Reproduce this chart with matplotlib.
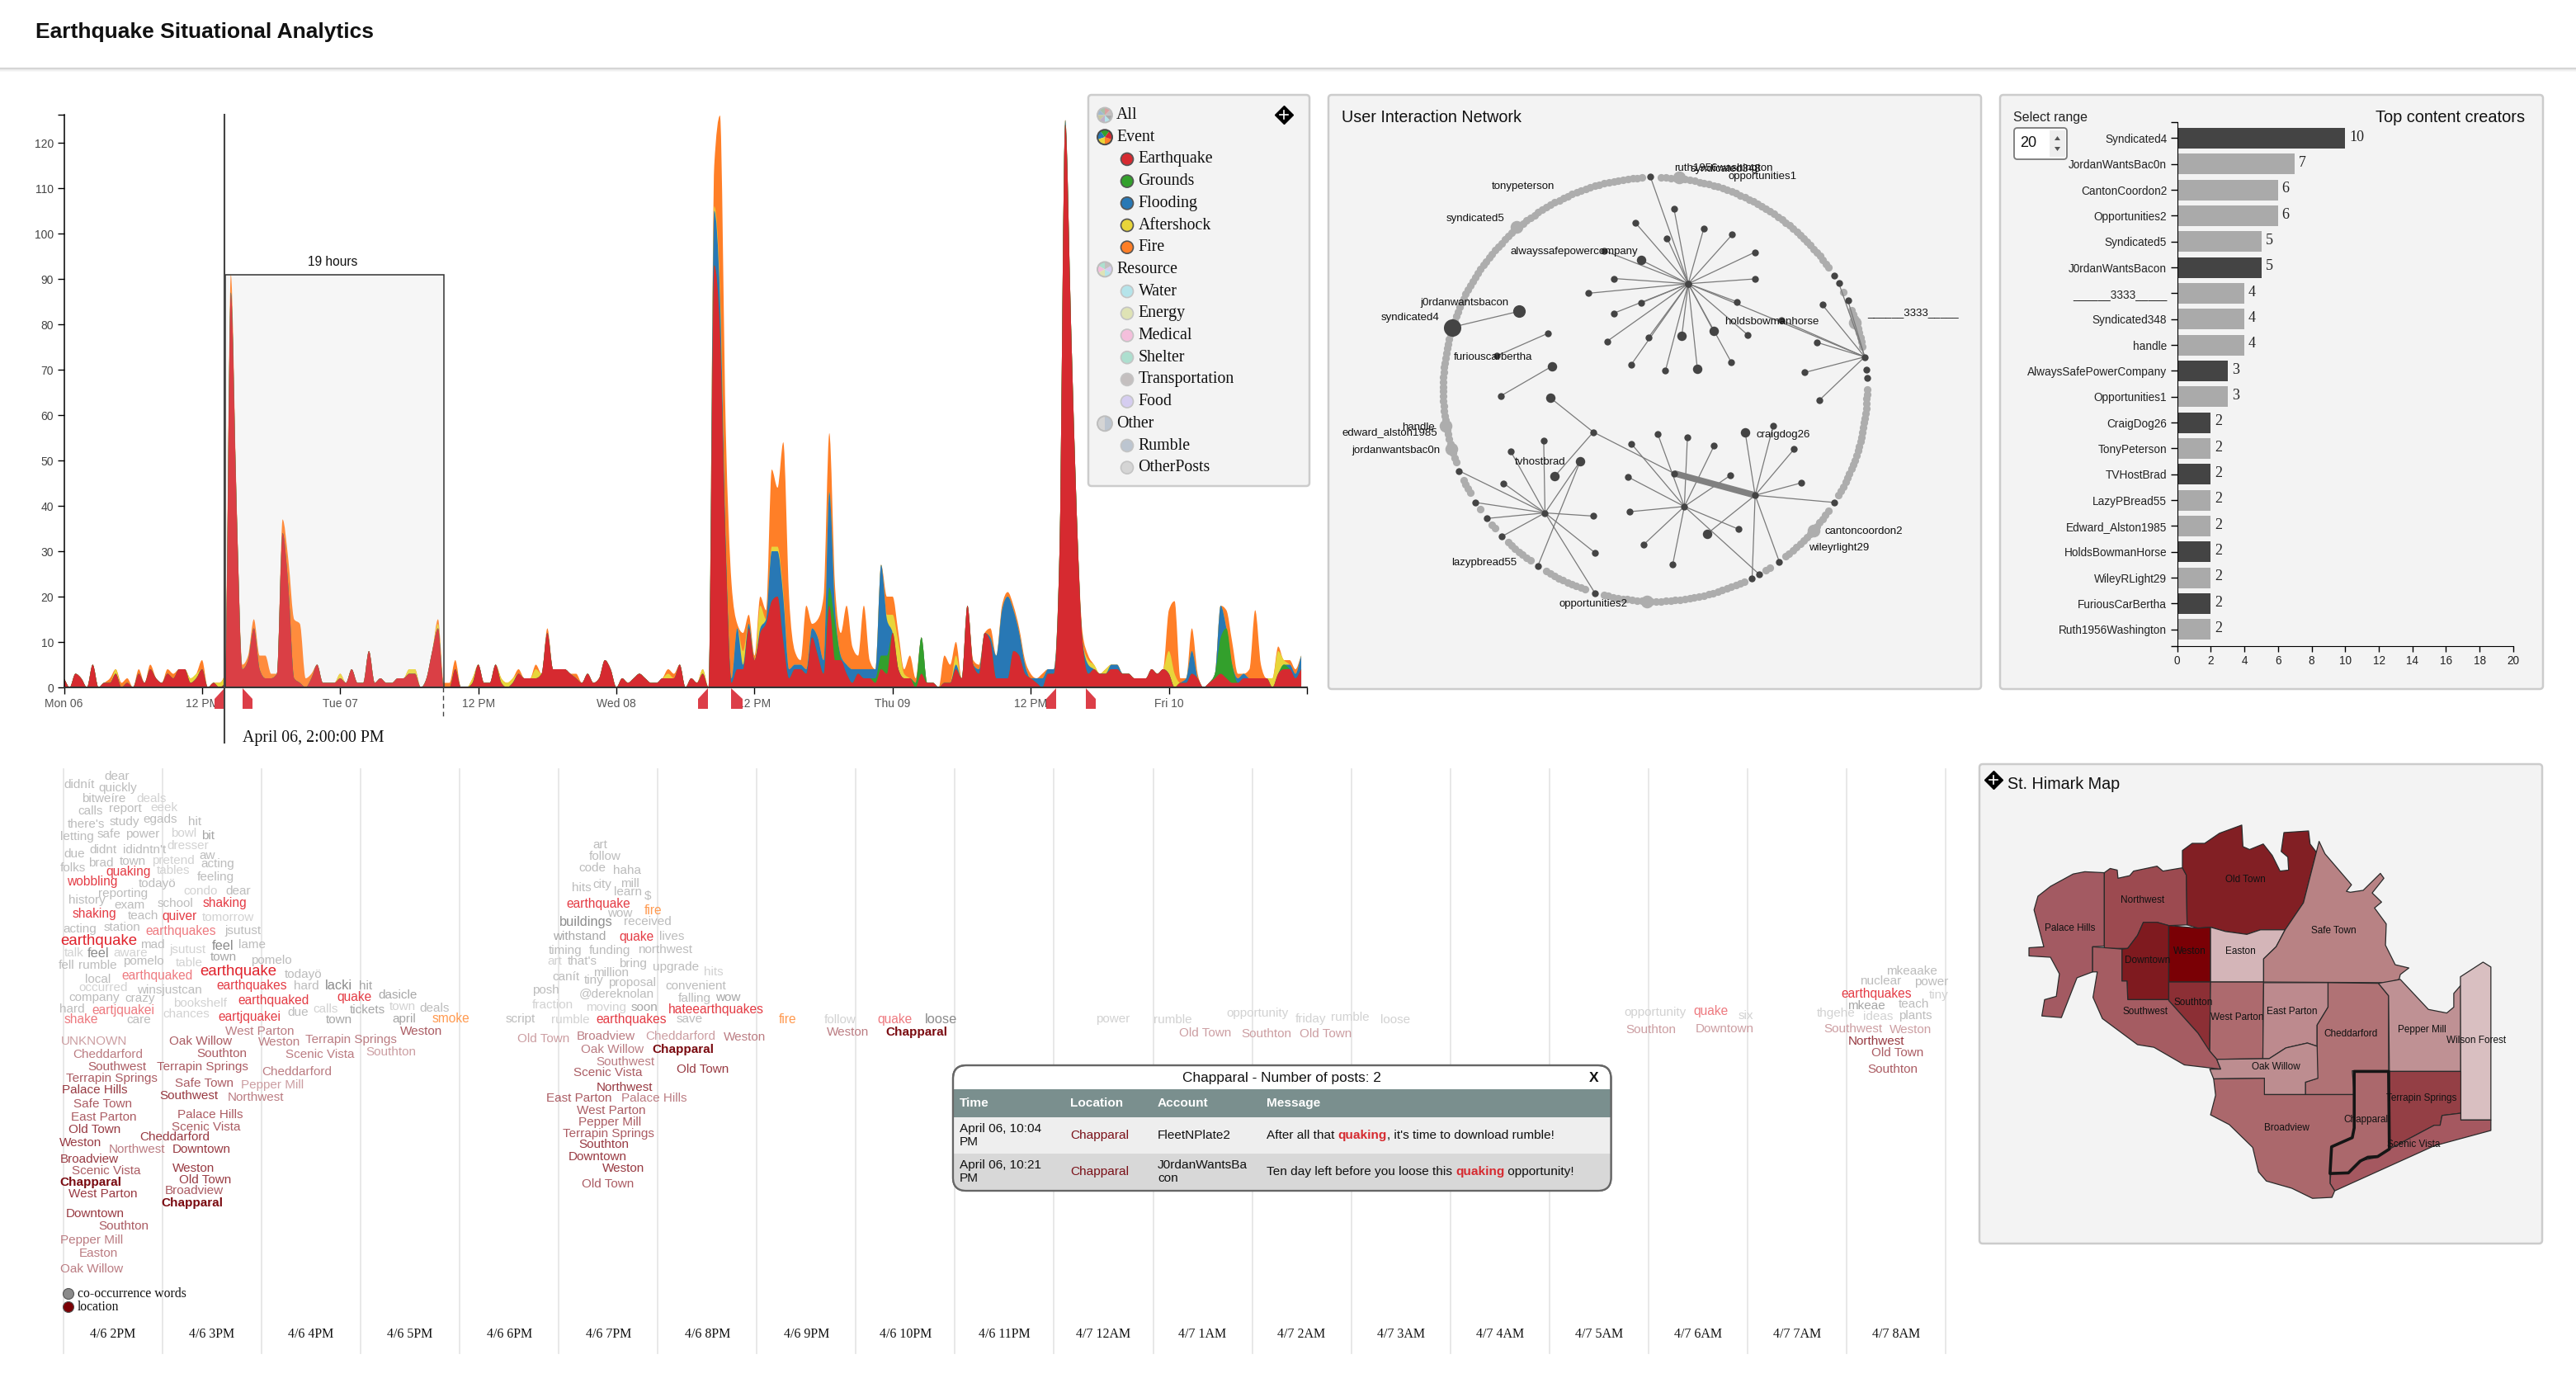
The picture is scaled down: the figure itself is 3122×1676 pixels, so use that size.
import numpy as np
import matplotlib
matplotlib.use("Agg")
import matplotlib.pyplot as plt
from matplotlib.patches import FancyBboxPatch, Rectangle, Polygon, PathPatch, Wedge, Circle
from matplotlib.path import Path

plt.rcParams['font.family'] = ['Liberation Sans', 'DejaVu Sans']
SERIF = ['Liberation Serif', 'DejaVu Serif']
W, H = 3122, 1676

# ---------- stream data: half-hour bins from Mon 06 00:00 (10 h per row) ----------
earthquake = [
 2,0,3,2,0,5,0,1,1,3,0,1,0,3,1,4,2,1,3,2,
 4,4,1,2,4,0,1,0,1,87,40,4,6,13,4,2,2,3,34,22,
 2,1,0,2,5,1,1,1,2,1,4,1,1,8,1,2,1,1,2,2,
 3,3,0,2,8,13,0,0,4,0,0,1,5,1,1,5,1,0,1,3,
 2,2,2,3,12,4,4,4,3,2,1,3,1,2,6,4,0,2,1,2,
 3,2,1,1,2,2,2,5,0,2,1,3,0,93,78,30,1,4,4,13,
 6,12,14,19,20,10,2,4,4,3,11,7,3,18,6,6,3,1,3,2,
 2,1,4,3,12,4,2,2,0,3,1,1,0,1,1,4,2,18,5,3,
 12,10,2,2,2,8,7,3,2,1,0,3,3,30,124,80,38,10,3,4,
 3,3,4,4,3,3,2,2,2,4,3,4,3,0,1,1,3,2,0,1,
 2,3,2,1,1,2,2,2,2,2,0,3,4,4,2,4]
grounds = [0]*120 + [
 0,0,0,0,0,0,0,0,0,0,0,0,0,4,8,0,0,0,0,0,
 0,1,3,4,0,0,0,0,1,8,0,0,0,0,0,0,0,0,0,0] + [0]*40 + [
 1,8,11,4,0,0,0,0,0,0,0,0,1,0,0,0]
flooding = [0]*100 + [
 0,0,0,0,0,0,0,0,0,0,0,0,0,12,8,2,1,9,1,1,
 0,1,1,11,10,10,2,1,1,1,2,4,3,21,3,1,2,3,1,2,
 2,2,20,8,0,0,0,0,0,0,0,0,0,0,0,1,0,0,0,1,
 0,1,5,15,18,9,5,2,0,1,2,1,1,0,1,0,0,0,2,0,
 0,0,1,1,0,0,0,0,0,0,0,0,0,0,0,1,5,0,0,0,
 0,7,0,0,1,1,0,0,0,0,0,0,0,1,1,3]
aftershock = [
 0,0,0,0,0,0,0,0,0,1,0,0,0,0,0,0,0,0,0,0,
 0,0,1,1,0,0,0,1,2,0,0,0,0,0,0,0,0,0,0,0,
 0,0,0,0,0,0,0,0,1,0,0,0,0,0,0,0,0,0,0,0,
 1,1,0,0,0,1,0,0,0,0,0,1,0,0,0,0,1,1,1,0,
 0,0,2,0,0,0,0,0,0,0,0,0,0,0,0,0,0,0,0,0,
 0,0,0,0,0,1,0,0,0,0,0,1,0,1,2,0,0,0,3,0,
 0,5,0,1,1,1,0,0,0,0,0,0,0,0,0,0,0,0,0,0,
 0,0,0,1,4,6,1,0,0,0,0,0,0,0,0,2,0,0,0,0,
 0,0,0,0,0,0,0,0,0,0,0,0,0,0,0,0,0,0,1,1,
 0,1,0,0,0,0,0,0,0,0,0,0,5,3,0,0,0,0,0,0,
 0,0,0,0,0,0,0,0,0,0,2,5,1,0,0,0]
fire = [
 0,0,0,0,0,0,0,0,1,0,1,1,0,1,0,1,0,0,1,1,
 0,0,0,0,2,0,0,0,0,4,1,1,1,2,3,5,1,0,3,6,
 13,13,2,1,0,0,0,0,0,0,0,0,0,0,0,0,0,0,0,0,
 0,0,0,0,0,1,1,1,2,0,0,0,0,0,0,0,0,0,0,1,
 0,0,1,0,1,0,0,0,0,1,0,0,0,0,0,0,0,0,0,0,
 0,0,0,0,0,1,1,0,0,0,0,0,0,9,38,25,21,1,4,2,
 1,2,2,17,13,33,16,3,1,14,1,4,14,13,5,5,13,5,3,14,
 2,0,0,4,4,2,1,5,1,0,0,0,0,6,4,3,0,0,1,1,
 0,2,0,1,1,1,1,1,1,0,1,0,0,0,0,0,0,2,1,0,
 0,0,0,0,0,0,0,0,0,0,0,0,9,16,1,0,5,1,0,0,
 0,0,4,5,1,0,2,15,3,0,0,1,0,1,1,0]
for s in (earthquake, grounds, flooding, aftershock, fire):
    assert len(s) == 216, len(s)
hours = np.arange(216) * 0.5
stream_ticks = [0, 12, 24, 36, 48, 60, 72, 84, 96, 108]
stream_tick_labels = ['Mon 06', '12 PM', 'Tue 07', '12 PM', 'Wed 08', '12 PM', 'Thu 09', '12 PM', 'Fri 10', '']

legend_rows = ['All', 'Event', 'Earthquake', 'Grounds', 'Flooding', 'Aftershock', 'Fire', 'Resource',
               'Water', 'Energy', 'Medical', 'Shelter', 'Transportation', 'Food', 'Other', 'Rumble', 'OtherPosts']
legend_colors = {'Earthquake': '#d62a30', 'Grounds': '#33a02c', 'Flooding': '#2878b5', 'Aftershock': '#e8d53a',
                 'Fire': '#ff7f27', 'Water': '#b5e4ea', 'Energy': '#dfe3b5', 'Medical': '#f4bfdc', 'Shelter': '#addfcf',
                 'Transportation': '#c4bfbf', 'Food': '#d5cdf0', 'Rumble': '#bcc5d0', 'OtherPosts': '#d5d5d5'}
legend_groups = {'All': ['#b5e4ea', '#aaaaaa', '#c4bfbf', '#d9a0a0', '#a8c0a8', '#a0b8d0', '#c8c8a0', '#c0b0c8'],
                 'Event': ['#ff7f27', '#d62a30', '#33a02c', '#2878b5', '#e8d53a'],
                 'Resource': ['#b5e4ea', '#d5cdf0', '#c4bfbf', '#addfcf', '#f4bfdc', '#dfe3b5'],
                 'Other': ['#bcc5d0', '#d5d5d5']}

# ---------- bars ----------
creators = ['Syndicated4', 'JordanWantsBac0n', 'CantonCoordon2', 'Opportunities2', 'Syndicated5', 'J0rdanWantsBacon',
            '______3333_____', 'Syndicated348', 'handle', 'AlwaysSafePowerCompany', 'Opportunities1', 'CraigDog26',
            'TonyPeterson', 'TVHostBrad', 'LazyPBread55', 'Edward_Alston1985', 'HoldsBowmanHorse', 'WileyRLight29',
            'FuriousCarBertha', 'Ruth1956Washington']
creator_posts = [10, 7, 6, 6, 5, 5, 4, 4, 4, 3, 3, 2, 2, 2, 2, 2, 2, 2, 2, 2]
creator_dark = [1, 0, 0, 0, 0, 1, 0, 0, 0, 1, 0, 1, 0, 1, 0, 0, 1, 0, 1, 0]

# ---------- network ----------
hubs = {'A': (853, 503), 'B': (1262, 686), 'C': (521, 1076), 'D': (844, 1060), 'E': (1008, 1032)}
leaves_A = [(765, 235), (820, 316), (730, 350), (889, 365), (955, 380), (804, 389), (1008, 424), (657, 420), (744, 444),
            (680, 490), (1008, 491), (621, 527), (965, 548), (744, 551), (680, 577), (991, 631), (912, 622), (665, 647),
            (761, 637), (838, 634), (721, 705), (800, 721), (874, 715), (953, 700)]
leaves_B = [(1164, 556), (1152, 650), (1123, 725), (1157, 794), (1068, 594), (1223, 545), (1202, 502), (853, 503)]
leaves_C = [(322, 971), (425, 1002), (442, 923), (518, 895), (603, 946), (360, 1050), (386, 1090), (421, 1135), (633, 1084),
            (636, 1175), (637, 1277)]
leaves_D = [(721, 903), (782, 878), (851, 888), (913, 908), (951, 982), (713, 986), (718, 1073), (750, 1155), (817, 1205),
            (970, 1117), (1018, 1230)]
leaves_E = [(985, 875), (1050, 858), (1098, 917), (1115, 1001), (1192, 1050), (896, 1129), (1064, 1198), (1001, 1240)]
extra_edges = [((305, 612), (461, 572)), ((528, 627), (410, 683)), ((538, 709), (418, 784)), ((533, 788), (633, 874)),
               ((633, 874), (820, 977)), ((633, 874), (544, 984)), ((603, 946), (504, 1210))]
big_nodes = [(744, 444), (912, 622), (838, 634), (874, 715), (461, 572), (603, 946), (544, 984), (985, 875), (896, 1129), (538, 709), (533, 788)]
solo_dark = [(1191, 482), (1266, 717), (1268, 739), (504, 1210), (410, 683), (528, 627), (418, 784), (633, 874), (820, 977)]
ring_big = [(456, 362), (832, 238), (1144, 1120), (757, 1298), (304, 917), (290, 858), (1240, 600)]
net_labels = ['ruth1956washington', 'syndicated348', 'opportunities1', 'tonypeterson', 'syndicated5', 'alwayssafepowercompany',
              'j0rdanwantsbacon', 'syndicated4', 'furiouscarbertha', 'holdsbowmanhorse', '______3333_____', 'handle',
              'edward_alston1985', 'jordanwantsbac0n', 'tvhostbrad', 'craigdog26', 'cantoncoordon2', 'wileyrlight29',
              'lazypbread55', 'opportunities2']
net_label_pos = [(820, 214), (858, 216), (945, 236), (398, 259), (291, 340), (440, 422), (232, 550), (140, 589), (309, 686),
                 (937, 599), (1268, 575), (190, 862), (51, 874), (74, 921), (450, 950), (1011, 880), (1170, 1123), (1133, 1164),
                 (304, 1200), (553, 1303)]

# ---------- map ----------
districts = {
 'Palace Hills': ('#a35a62', [(360,348),(310,345),(280,352),(222,390),(190,420),(180,462),(205,575),(167,578),(167,603),(222,607),(245,658),(237,727),(207,737),(200,787),(250,792),(290,670),(330,652),(330,575),(360,573)]),
 'Northwest': ('#9c4a50', [(360,348),(375,335),(393,340),(395,365),(425,357),(435,343),(495,328),(510,343),(560,333),(570,355),(572,508),(525,510),(495,500),(460,500),(445,540),(420,580),(360,580)]),
 'Old Town': ('#821f24', [(560,280),(585,258),(617,258),(655,227),(712,202),(715,268),(732,277),(767,260),(790,295),(810,343),(832,340),(830,300),(813,283),(820,225),(883,220),(887,260),(903,285),(870,440),(823,523),(760,523),(725,537),(670,528),(632,515),(600,518),(572,508),(570,355),(560,333)]),
 'Downtown': ('#7f1a1f', [(460,500),(495,500),(525,510),(525,737),(420,737),(418,680),(405,680),(405,582),(420,580),(445,540)]),
 'Weston': ('#7a0005', [(525,510),(600,518),(632,515),(632,683),(525,683)]),
 'Easton': ('#d4b5b8', [(632,515),(670,528),(725,537),(760,523),(823,523),(800,575),(768,612),(768,683),(632,683)]),
 'Safe Town': ('#b88284', [(910,252),(925,290),(993,385),(980,405),(990,408),(1023,402),(1067,350),(1076,365),(1046,410),(1070,438),(1052,456),(1082,505),(1080,570),(1105,630),(1140,640),(1118,660),(1115,675),(1085,685),(768,683),(768,612),(800,575),(823,523),(870,440),(903,285)]),
 'Southton': ('#8c2f35', [(525,683),(632,683),(630,900),(600,840),(525,740)]),
 'West Parton': ('#ad6a6e', [(632,683),(768,683),(766,918),(648,920),(630,895)]),
 'East Parton': ('#bd8a8e', [(768,685),(933,685),(933,760),(905,815),(905,880),(880,870),(825,885),(782,918),(766,918)]),
 'Southwest': ('#a55c62', [(330,575),(405,582),(405,680),(418,680),(420,737),(525,737),(525,740),(600,840),(630,895),(648,920),(658,950),(565,937),(487,883),(445,875),(355,795),(331,730),(342,652),(330,652)]),
 'Cheddarford': ('#b07275', [(933,685),(1062,687),(1088,725),(1088,955),(995,955),(1000,1028),(875,1028),(875,990),(905,978),(905,815),(933,760)]),
 'Pepper Mill': ('#bf9194', [(1062,687),(1118,675),(1190,767),(1237,778),(1255,760),(1255,718),(1273,693),(1273,957),(1090,957),(1088,725)]),
 'Wilson Forest': ('#d9bfc1', [(1272,667),(1330,622),(1350,637),(1350,1106),(1273,1106)]),
 'Oak Willow': ('#bd8d90', [(648,920),(766,918),(782,918),(825,885),(880,870),(905,880),(907,978),(875,990),(875,1028),(770,1028),(770,978),(640,980),(630,950),(658,950)]),
 'Terrapin Springs': ('#943f45', [(1090,957),(1273,957),(1273,1085),(1225,1092),(1220,1122),(1205,1122),(1090,1195)]),
 'Scenic Vista': ('#a55860', [(1273,1085),(1273,1106),(1350,1106),(1350,1138),(1205,1185),(950,1323),(938,1300),(940,1270),(985,1270),(1020,1230),(1060,1220),(1090,1195),(1205,1122),(1220,1122),(1225,1092)]),
 'Broadview': ('#ab686c', [(640,980),(770,978),(770,1028),(1000,1028),(1000,1160),(945,1187),(938,1270),(938,1300),(950,1323),(943,1343),(893,1346),(840,1315),(775,1293),(755,1265),(740,1190),(680,1120),(632,1090),(645,1030)]),
 'Chapparal': ('#ab686c', [(1000,957),(1088,957),(1090,1195),(1060,1218),(1035,1220),(1015,1232),(985,1268),(938,1270),(942,1188),(995,1160),(1000,1130)]),
}
district_labels = {'Old Town': (721,370), 'Northwest': (458,433), 'Palace Hills': (273,519), 'Safe Town': (947,527), 'Weston': (578,590),
                   'Easton': (709,590), 'Downtown': (471,618), 'Southton': (587,747), 'Southwest': (465,775), 'East Parton': (841,775),
                   'West Parton': (699,792), 'Pepper Mill': (1173,830), 'Cheddarford': (992,843), 'Wilson Forest': (1312,863),
                   'Oak Willow': (800,944), 'Terrapin Springs': (1172,1040), 'Chapparal': (1030,1106), 'Broadview': (828,1131), 'Scenic Vista': (1152,1181)}

# ---------- word clouds ----------
hour_labels = ['4/6 2PM', '4/6 3PM', '4/6 4PM', '4/6 5PM', '4/6 6PM', '4/6 7PM', '4/6 8PM', '4/6 9PM', '4/6 10PM', '4/6 11PM',
               '4/7 12AM', '4/7 1AM', '4/7 2AM', '4/7 3AM', '4/7 4AM', '4/7 5AM', '4/7 6AM', '4/7 7AM', '4/7 8AM']
styles = {'p': ('#d2d2d2', 11.0, 'normal'), 'g': ('#bcbcbc', 11.0, 'normal'), 'd': ('#a6a6a6', 11.0, 'normal'),
          'D': ('#8c8c8c', 11.8, 'normal'), 'r': ('#e43c45', 11.2, 'normal'), 'R': ('#e0222c', 13.4, 'normal'),
          'k': ('#ee7a80', 11.2, 'normal'), 'o': ('#ff9a50', 11.2, 'normal'), 'L1': ('#cc9ea2', 11.0, 'normal'),
          'L2': ('#bb7c82', 11.0, 'normal'), 'L3': ('#ab5c63', 11.0, 'normal'), 'L4': ('#983a42', 11.0, 'normal'),
          'C': ('#7a0a10', 11.0, 'bold')}

words_a = ['dear','didnít','quickly','bitweíre','deals','calls','report','eeek',"there's",'study','egads','hit','letting','safe','power','bowl','bit','dresser','due','didnt',"ididntn't",'aw','pretend','acting','brad','town','folks','quaking','tables','feeling','wobbling','todayö','reporting','condo','dear','history','exam','school','shaking','shaking','teach','quiver','tomorrow','acting','station','earthquakes','jsutust','earthquake','mad','jsutust','feel','lame','talk','feel','aware','pomelo','town','pomelo','table','fell','rumble','local','earthquaked','earthquake','todayö','occurred','earthquakes','hard','lacki','hit','winsjustcan','company','crazy','earthquaked','quake','dasicle','bookshelf','town','deals','hard','eartjquakei','chances','calls','tickets','due','eartjquakei','care','shake','town','april','smoke','script',
           'UNKNOWN','Oak Willow','West Parton','Weston','Terrapin Springs','Weston','Southton','Cheddarford','Southton','Scenic Vista','Southwest','Terrapin Springs','Cheddarford','Terrapin Springs','Safe Town','Pepper Mill','Palace Hills','Southwest','Northwest','Safe Town','Palace Hills','East Parton','Scenic Vista','Old Town','Cheddarford','Weston','Northwest','Downtown','Broadview','Weston','Scenic Vista','Old Town','Chapparal','Broadview','West Parton','Chapparal','Downtown','Southton','Pepper Mill','Easton','Oak Willow']
layout_a = [(218,44,'g'),(95,66,'g'),(200,75,'g'),(150,102,'g'),(318,101,'p'),(137,134,'g'),(232,127,'g'),(360,126,'p'),(107,167,'g'),(233,160,'g'),(338,154,'g'),(476,161,'g'),(83,200,'g'),(197,192,'g'),(284,192,'g'),(423,191,'p'),(517,196,'d'),(410,222,'p'),(94,244,'g'),(172,234,'g'),(275,234,'g'),(510,247,'g'),(365,260,'p'),(515,270,'g'),(170,268,'g'),(266,262,'g'),(82,280,'g'),(224,290,'r'),(379,287,'p'),(502,302,'g'),(104,315,'r'),(322,319,'g'),(201,345,'g'),(460,339,'p'),(589,340,'g'),(108,363,'g'),(249,375,'g'),(382,370,'g'),(519,370,'r'),(121,398,'r'),(290,403,'g'),(396,403,'r'),(518,407,'p'),(93,437,'g'),(216,432,'g'),(346,442,'k'),(587,441,'g'),(84,468,'R'),(330,476,'g'),(418,490,'p'),(547,479,'D'),(630,476,'g'),(95,497,'p'),(167,498,'D'),(247,497,'p'),(277,519,'g'),(543,508,'d'),(668,516,'g'),(437,523,'p'),(78,530,'g'),(140,530,'g'),(160,565,'g'),(271,556,'k'),(511,546,'R'),(771,552,'g'),(140,587,'p'),(562,581,'r'),(798,582,'g'),(896,582,'D'),(1000,582,'d'),(319,594,'g'),(110,612,'g'),(281,615,'g'),(628,620,'r'),(932,612,'r'),(1059,607,'d'),(431,628,'p'),(1093,635,'p'),(1185,640,'g'),(80,641,'g'),(180,646,'k'),(399,654,'p'),(859,642,'p'),(970,645,'d'),(781,650,'g'),(568,662,'r'),(287,669,'g'),(94,668,'k'),(897,669,'d'),(1101,667,'d'),(1224,667,'o'),(1448,667,'g'),
            (86,725,'L1'),(418,725,'L3'),(590,700,'L2'),(690,727,'L2'),(834,720,'L2'),(1125,700,'L3'),(1021,753,'L1'),(123,759,'L2'),(502,757,'L3'),(775,759,'L2'),(168,791,'L3'),(379,791,'L3'),(700,804,'L2'),(102,819,'L3'),(435,833,'L3'),(637,837,'L1'),(89,850,'L4'),(387,864,'L4'),(597,869,'L2'),(124,886,'L3'),(443,914,'L3'),(116,920,'L3'),(424,944,'L3'),(110,952,'L4'),(328,971,'L4'),(82,986,'L4'),(232,1003,'L2'),(428,1003,'L4'),(84,1028,'L4'),(427,1050,'L4'),(118,1058,'L3'),(448,1081,'L4'),(82,1088,'C'),(404,1109,'L3'),(108,1117,'L4'),(392,1141,'C'),(100,1168,'L4'),(201,1200,'L3'),(84,1236,'L2'),(142,1270,'L2'),(84,1310,'L2')]

words_b = ['art','follow','code','haha','hits','city','mill','learn','$','earthquake','fire','wow','buildings','received','withstand','quake','lives','timing','funding','northwest','art',"that's",'bring','upgrade','hits','million','canít','tiny','proposal','convenient','posh','@dereknolan','falling','wow','fraction','moving','soon','hateearthquakes','rumble','earthquakes','save','fire','follow','quake','loose',
           'Old Town','Broadview','Cheddarford','Weston','Weston','Chapparal','Oak Willow','Chapparal','Southwest','Old Town','Scenic Vista','Northwest','East Parton','Palace Hills','West Parton','Pepper Mill','Terrapin Springs','Southton','Downtown','Weston','Old Town']
layout_b = [(350,71,'g'),(338,115,'g'),(306,155,'g'),(413,166,'g'),(285,227,'g'),(351,216,'g'),(435,212,'g'),(415,243,'g'),(507,258,'g'),(268,287,'r'),(507,311,'o'),(394,320,'g'),(247,353,'D'),(445,350,'g'),(227,405,'d'),(430,407,'r'),(553,404,'g'),(215,455,'g'),(338,455,'g'),(489,452,'g'),(212,494,'p'),(272,494,'g'),(430,505,'g'),(533,515,'g'),(690,535,'p'),(351,536,'g'),(225,551,'g'),(322,563,'g'),(398,573,'g'),(573,584,'g'),(165,599,'g'),(307,612,'g'),(611,631,'g'),(725,628,'d'),(165,655,'p'),(329,662,'p'),(467,662,'d'),(581,671,'r'),(223,707,'p'),(361,705,'r'),(607,704,'g'),(920,705,'o'),(1060,707,'p'),(1223,705,'k'),(1367,707,'D'),
            (118,778,'L1'),(300,769,'L2'),(512,769,'L1'),(751,770,'L2'),(1066,752,'L2'),(1248,752,'C'),(314,815,'L2'),(533,815,'C'),(360,860,'L2'),(607,887,'L4'),(290,899,'L3'),(361,953,'L4'),(208,992,'L3'),(437,994,'L2'),(300,1037,'L3'),(307,1079,'L3'),(257,1121,'L3'),(307,1160,'L4'),(276,1205,'L4'),(379,1247,'L4'),(317,1304,'L3')]

words_c = ['power','rumble','opportunity','friday','rumble','loose','Old Town','Southton','Old Town']
layout_c = [(388,105,'p'),(508,107,'p'),(659,85,'p'),(800,104,'p'),(874,98,'p'),(977,107,'p'),(561,155,'L1'),(689,158,'L1'),(809,158,'L1')]

words_d = ['opportunity','quake','six','Southton','Downtown','mkeaake','nuclear','power','earthquakes','tiny','mkeae','teach','thgehe','ideas','plants','Southwest','Weston','Northwest','Old Town','Southton']
layout_d = [(206,322,'p'),(457,317,'k'),(620,333,'p'),(210,385,'L1'),(463,380,'L1'),(1157,170,'g'),(1063,206,'g'),(1261,211,'g'),(994,252,'r'),(1313,258,'p'),(1018,298,'d'),(1203,290,'g'),(905,324,'p'),(1073,336,'p'),(1202,333,'g'),(931,380,'L1'),(1170,384,'L1'),(1018,425,'L4'),(1103,469,'L3'),(1091,527,'L3')]
assert len(words_a) == len(layout_a) and len(words_b) == len(layout_b)

# ---------- table ----------
table_header = ['Time', 'Location', 'Account', 'Message']
table_rows = [['April 06, 10:04\nPM', 'Chapparal', 'FleetNPlate2', [("After all that ", 0), ("quaking", 1), (", it's time to download rumble!", 0)]],
              ['April 06, 10:21\nPM', 'Chapparal', 'J0rdanWantsBa\ncon', [("Ten day left before you loose this ", 0), ("quaking", 1), (" opportunity!", 0)]]]

# ===================================================================
fig = plt.figure(figsize=(W / 100, H / 100), dpi=100, facecolor='white')

def px_axes(x0, y0, x1, y1, z):
    a = fig.add_axes([x0 / W, 1 - y1 / H, (x1 - x0) / W, (y1 - y0) / H], zorder=z)
    a.patch.set_visible(False)
    return a

bg = px_axes(0, 0, W, H, 0)
bg.set_xlim(0, W); bg.set_ylim(H, 0); bg.axis('off')

# header
for i, c in enumerate(['#cfcfcf', '#dcdcdc', '#e8e8e8', '#f1f1f1', '#f8f8f8']):
    bg.plot([0, W], [82 + i, 82 + i], color=c, lw=0.8)
bg.text(43, 39, 'Earthquake Situational Analytics', fontsize=19, fontweight='bold', va='center', color='#111111')

def panel(x0, y0, x1, y1):
    bg.add_patch(FancyBboxPatch((x0, y0), x1 - x0, y1 - y0, boxstyle='round,pad=0,rounding_size=4',
                                fc='#f3f3f3', ec='#cccccc', lw=1.8))

panel(1319, 115, 1587, 589)
panel(1610, 115, 2401, 835)
panel(2424, 115, 3082, 835)
panel(2399, 926, 3081, 1507)

# word-cloud column rules
for i in range(20):
    x = 77 + 120.05 * i
    bg.plot([x, x], [932, 1640], color='#e6e6e6', lw=1.3)

# ---------- stream ----------
ax = px_axes(77.5, 139, 1584, 833, 1)
ax.set_xlim(0, 108); ax.set_ylim(0, 126.2)

def monotone_path(x, y):
    x = np.asarray(x, float); y = np.asarray(y, float)
    h = np.diff(x); d = np.diff(y) / h
    m = np.zeros_like(y)
    for i in range(1, len(y) - 1):
        p = (d[i - 1] * h[i] + d[i] * h[i - 1]) / (h[i] + h[i - 1])
        m[i] = (np.sign(d[i - 1]) + np.sign(d[i])) * min(abs(d[i - 1]), abs(d[i]), 0.5 * abs(p))
    m[0] = d[0]; m[-1] = d[-1]
    verts = [(x[0], 0), (x[0], y[0])]
    codes = [Path.MOVETO, Path.LINETO]
    for i in range(len(h)):
        verts += [(x[i] + h[i] / 3, y[i] + m[i] * h[i] / 3), (x[i + 1] - h[i] / 3, y[i + 1] - m[i + 1] * h[i] / 3), (x[i + 1], y[i + 1])]
        codes += [Path.CURVE4] * 3
    verts += [(x[-1], 0), (x[0], 0)]
    codes += [Path.LINETO, Path.CLOSEPOLY]
    return Path(verts, codes)

ax.add_patch(Rectangle((14, 0), 19, 91, fc='#f5f5f5', ec='none', zorder=0.5))
stack = np.array([earthquake, grounds, flooding, aftershock, fire], float)
tops = np.cumsum(stack, axis=0)
stream_cols = ['#d62a30', '#33a02c', '#2878b5', '#e8d53a', '#ff7f27']
for k in range(4, -1, -1):
    ax.add_patch(PathPatch(monotone_path(hours, tops[k]), fc=stream_cols[k], ec='none', zorder=2 + (4 - k) * 0.1))
ax.add_patch(Rectangle((14, 0), 19, 91, fc='white', alpha=0.1, ec='none', zorder=3))
ax.add_patch(Rectangle((14, 0), 19, 91, fc='none', ec='#333333', lw=1.1, zorder=3.1))

for s in ('top', 'right'):
    ax.spines[s].set_visible(False)
ax.spines['left'].set_linewidth(1.1)
ax.spines['bottom'].set_linewidth(1.5); ax.spines['bottom'].set_color('#333333')
ax.set_yticks(list(range(0, 130, 10)) + [126.2])
ax.set_yticklabels([str(v) for v in range(0, 130, 10)] + [''], fontsize=10, color='#444444')
ax.set_xticks(stream_ticks)
ax.set_xticklabels(stream_tick_labels, fontsize=10, color='#555555')
ax.tick_params(axis='y', length=6, width=1, pad=3)
ax.tick_params(axis='x', length=6, width=1, pad=3)

# ---------- bars ----------
bx = px_axes(2638.7, 148.5, 3045.9, 782.5, 2)
bx.set_xlim(0, 20); bx.set_ylim(19.63, -0.603)
ypos = np.arange(len(creators))
bx.barh(ypos, creator_posts, height=0.8, color=['#444444' if d else '#aaaaaa' for d in creator_dark])
for y, v in zip(ypos, creator_posts):
    bx.text(v + 0.24, y - 0.04, str(v), family=SERIF, fontsize=13, va='center', color='#222222')
for s in ('top', 'right'):
    bx.spines[s].set_visible(False)
bx.set_yticks(ypos); bx.set_yticklabels(creators, fontsize=9.8, color='#222222')
bx.set_xticks(range(0, 21, 2)); bx.set_xticklabels(range(0, 21, 2), fontsize=9.8, color='#222222')
bx.set_yticks([-0.603, 19.63], minor=True)
bx.tick_params(axis='y', which='both', length=6, width=1, pad=3)
bx.tick_params(axis='x', length=5, width=1, pad=3)

# ---------- network ----------
def region(x0, y0, w, h, z=3):
    a = px_axes(x0, y0, x0 + w, y0 + h, z)
    a.set_xlim(0, 1568); a.set_ylim(1568, 0); a.axis('off')
    return a

nx = region(1600, 100, 820, 760)
dark_ring = [(765,235),(1191,482),(1202,502),(1223,545),(1262,686),(1266,717),(1268,739),(322,971),(360,1050),(386,1090),(421,1135),(504,1210),(637,1277),(1001,1240),(1018,1230),(1064,1198),(1192,1050)]
ang = np.deg2rad(np.arange(0, 360, 1.3))
rx_ = 776 + 491 * np.cos(ang); ry_ = 767 + 530 * np.sin(ang)
keep = [not any((a - p) ** 2 + (b - q) ** 2 < 18 ** 2 for p, q in dark_ring) for a, b in zip(rx_, ry_)]
nx.scatter(rx_[keep], ry_[keep], s=44, c='#adadad', linewidths=0, zorder=1)
nx.scatter(*zip(*ring_big), s=125, c='#adadad', linewidths=0, zorder=1)
for key, lv in (('A', leaves_A), ('B', leaves_B), ('C', leaves_C), ('D', leaves_D), ('E', leaves_E)):
    for p in lv:
        nx.plot([hubs[key][0], p[0]], [hubs[key][1], p[1]], color='#7a7a7a', lw=0.9, zorder=2)
for a_, b_ in extra_edges:
    nx.plot([a_[0], b_[0]], [a_[1], b_[1]], color='#7a7a7a', lw=0.9, zorder=2)
nx.plot([820, 1008], [977, 1032], color='#808080', lw=5.5, zorder=2, solid_capstyle='butt')
smalls = list(hubs.values()) + leaves_A + leaves_B + leaves_C + leaves_D + leaves_E + solo_dark
nx.scatter(*zip(*smalls), s=36, c='#444444', linewidths=0, zorder=3)
nx.scatter(*zip(*big_nodes), s=68, c='#444444', linewidths=0, zorder=3)
nx.scatter([461], [572], s=120, c='#444444', linewidths=0, zorder=3)
nx.scatter([305], [612], s=230, c='#444444', linewidths=0, zorder=3)
for t, (x, y) in zip(net_labels, net_label_pos):
    nx.text(x, y, t, fontsize=9.5, va='center', color='#111111', zorder=4)
nx.text(50, 87, 'User Interaction Network', fontsize=14.2, va='center', color='#111111', zorder=4)

# ---------- map ----------
mp = region(2380, 920, 742, 620)
for name, (col, pts) in districts.items():
    if name != 'Chapparal':
        mp.add_patch(Polygon(pts, closed=True, fc=col, ec='#2a2a2a', lw=0.9, joinstyle='round'))
mp.add_patch(Polygon(districts['Chapparal'][1], closed=True, fc=districts['Chapparal'][0], ec='#151515', lw=2.6, joinstyle='round', zorder=2))
for name, (x, y) in district_labels.items():
    mp.text(x, y, name, fontsize=8.5, ha='center', va='center', color='#111111', zorder=3)
mp.text(112, 76, 'St. Himark Map', fontsize=14.2, va='center', color='#111111')

# ---------- foreground in pixel units ----------
fg = px_axes(0, 0, W, H, 6)
fg.set_xlim(0, W); fg.set_ylim(H, 0); fg.axis('off')

# brush handles and labels
fg.plot([272, 272], [139, 900], color='#444444', lw=1.5)
fg.plot([537, 537], [833, 870], color='#444444', lw=1, ls=(0, (4, 3)))
fg.text(403, 317, '19 hours', fontsize=11.2, ha='center', va='center', color='#111111')
fg.text(294, 894, 'April 06, 2:00:00 PM', family=SERIF, fontsize=14.3, va='center', color='#111111')
flags_left = [(260, 272), (846, 858), (1268, 1280)]
flags_right = [(294, 306), (886, 900), (1316, 1328)]
for a_, b_ in flags_left:
    fg.add_patch(Polygon([(a_, 847), (b_, 834), (b_, 859), (a_, 859)], fc='#dc3e48', ec='none'))
for a_, b_ in flags_right:
    fg.add_patch(Polygon([(a_, 834), (b_, 847), (b_, 859), (a_, 859)], fc='#dc3e48', ec='none'))

# legend
for i, name in enumerate(legend_rows):
    y = 139.5 + 26.7 * i
    if name in legend_groups:
        cols = legend_groups[name]
        for j, c in enumerate(cols):
            st = 90 - j * 360 / len(cols)
            fg.add_patch(Wedge((1339, y), 9, st - 360 / len(cols), st, fc=c, ec='none'))
        fg.add_patch(Circle((1339, y), 9, fc='none', ec='#4a4a4a' if name == 'Event' else '#bdbdbd', lw=1.4))
        fg.text(1353, y, name, family=SERIF, fontsize=14.3, va='center', color='#111111')
    else:
        fg.add_patch(Circle((1366, y), 7.5, fc=legend_colors[name],
                            ec='#555555' if i < 7 else '#c4c4c4', lw=1.2))
        fg.text(1379.5, y, name, family=SERIF, fontsize=14.3, va='center', color='#111111')

def move_icon(x, y):
    fg.plot([x], [y], marker='D', ms=11.5, mfc='black', mec='black')
    fg.plot([x - 5, x + 5], [y, y], color='white', lw=1.2)
    fg.plot([x, x], [y - 5, y + 5], color='white', lw=1.2)

move_icon(1556, 138.7)
move_icon(2416, 945)

# bars: titles and input
fg.text(2440, 143, 'Select range', fontsize=11.5, va='center', color='#222222')
fg.text(3060, 142, 'Top content creators', fontsize=14.4, ha='right', va='center', color='#111111')
fg.add_patch(FancyBboxPatch((2441, 155), 64, 38, boxstyle='round,pad=0,rounding_size=4', fc='white', ec='#7a7a7a', lw=1.3))
fg.add_patch(Rectangle((2484, 158), 19, 32, fc='#eeeeee', ec='none'))
fg.add_patch(Polygon([(2490, 170), (2497, 170), (2493.5, 165)], fc='#555555', ec='none'))
fg.add_patch(Polygon([(2490, 178), (2497, 178), (2493.5, 183)], fc='#555555', ec='none'))
fg.text(2448, 174, '20', fontsize=13, va='center', color='#111111')

# word clouds
def put_words(words, layout, x0, y0, sx, sy):
    for w, (x, y, st) in zip(words, layout):
        col, fs, wt = styles[st]
        fg.text(x0 + x * sx, y0 + y * sy, w, color=col, fontsize=fs, fontweight=wt, va='center', ha='left')

put_words(words_a, layout_a, 40, 920, 620 / 1568, 740 / 1568)
put_words(words_b, layout_b, 580, 1000, 620 / 1568, 1 / 3)
put_words(words_c, layout_c, 1100, 1200, 920 / 1568, 1 / 3)
put_words(words_d, layout_d, 1900, 1120, 1 / 3, 1 / 3)

fg.add_patch(Circle((83, 1568), 6.5, fc='#8a8a8a', ec='#555555', lw=0.8))
fg.add_patch(Circle((83, 1584), 6.5, fc='#7a0005', ec='#555555', lw=0.8))
fg.text(94, 1567.5, 'co-occurrence words', family=SERIF, fontsize=11.3, va='center', color='#111111')
fg.text(94, 1584, 'location', family=SERIF, fontsize=11.3, va='center', color='#111111')
for i, t in enumerate(hour_labels):
    fg.text(77 + 120.05 * (i + 0.5), 1617, t, family=SERIF, fontsize=11.5, ha='center', va='center', color='#111111')

# table popup
box = FancyBboxPatch((1155, 1291), 797.5, 152, boxstyle='round,pad=0,rounding_size=16', fc='white', ec='#666666', lw=1.6, zorder=5)
fg.add_patch(box)
for (ya, yb, c) in [(1320, 1354, '#7a8f8e'), (1354, 1398, '#eeeeee'), (1398, 1443, '#d8d8d8')]:
    r = Rectangle((1155, ya), 797.5, yb - ya, fc=c, ec='none', zorder=5.1)
    fg.add_patch(r); r.set_clip_path(box)
fg.add_patch(FancyBboxPatch((1155, 1291), 797.5, 152, boxstyle='round,pad=0,rounding_size=16', fc='none', ec='#666666', lw=1.6, zorder=5.2))
fg.text(1553.5, 1306, 'Chapparal - Number of posts: 2', fontsize=12.4, ha='center', va='center', color='#111111', zorder=6)
fg.text(1932, 1306, 'X', fontsize=12.5, fontweight='bold', ha='center', va='center', color='#111111', zorder=6)
col_x = [1163, 1297, 1403, 1535]
TS = 11.1
for x, t in zip(col_x, table_header):
    fg.text(x, 1337, t, fontsize=TS, fontweight='bold', va='center', color='white', zorder=6)
renderer = fig.canvas.get_renderer()
for (row, y) in zip(table_rows, (1376, 1420)):
    fg.text(col_x[0], y, row[0], fontsize=TS, va='center', color='#111111', linespacing=1.1, zorder=6)
    fg.text(col_x[1], y, row[1], fontsize=TS, va='center', color='#7a1018', zorder=6)
    fg.text(col_x[2], y, row[2], fontsize=TS, va='center', color='#111111', linespacing=1.1, zorder=6)
    cx = col_x[3]
    for seg, hot in row[3]:
        fg.text(cx, y, seg, fontsize=TS, va='center', zorder=6,
                color='#d62a30' if hot else '#111111', fontweight='bold' if hot else 'normal')
        tb = fg.text(0, 0, seg.replace(' ', '\u00a0'), fontsize=TS, fontweight='bold' if hot else 'normal')
        cx += tb.get_window_extent(renderer).width
        tb.remove()

fig.savefig('out.png', dpi=100)
